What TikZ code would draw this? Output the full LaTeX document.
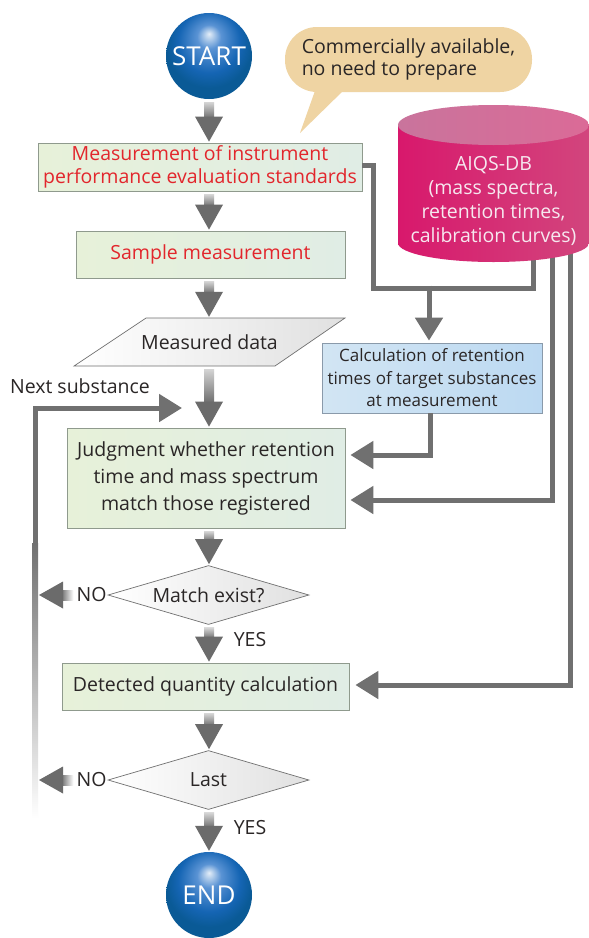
\documentclass[tikz,border=0pt]{standalone}
\usepackage{fontspec}
\setmainfont{Open Sans}
\usepackage{tikz}
\usetikzlibrary{calc,arrows.meta,shapes.geometric}

\definecolor{arrowgray}{HTML}{6B6B6B}
\definecolor{shaftlight}{HTML}{D4D4D4}
\definecolor{linegray}{HTML}{707070}
\definecolor{boxgreenA}{HTML}{E7F1D9}
\definecolor{boxgreenB}{HTML}{E0EDE5}
\definecolor{boxedge}{HTML}{8F9A8D}
\definecolor{calcA}{HTML}{D2E5F3}
\definecolor{calcB}{HTML}{BCD9F2}
\definecolor{calcedge}{HTML}{8A9AAA}
\definecolor{stepred}{HTML}{E2262C}
\definecolor{textdark}{HTML}{2A2626}
\definecolor{notetan}{HTML}{EFD4A3}
\definecolor{dbA}{HTML}{D8186C}
\definecolor{dbB}{HTML}{C67C9B}
\definecolor{dbC}{HTML}{D2457D}
\definecolor{dbtop}{HTML}{C9749C}
\definecolor{dbtext}{HTML}{F6E8EF}
\definecolor{sphereHi}{HTML}{E4EEF8}
\definecolor{sphereA}{HTML}{5A93D4}
\definecolor{sphereB}{HTML}{1565B4}
\definecolor{sphereC}{HTML}{0A5A96}

\pgfdeclareradialshading{bluesphere}{\pgfpoint{0bp}{13bp}}{color(0bp)=(sphereHi); color(7bp)=(sphereA); color(18bp)=(sphereB); color(25bp)=(sphereC); color(50bp)=(sphereC)}

\newcommand{\flowarrow}[2]{%
  \shade[top color=shaftlight, bottom color=arrowgray] ($(#1)+(-5,3)$) rectangle ($(#2)+(5,-24)$);
  \fill[arrowgray] ($(#2)+(-14,-26)$) -- ($(#2)+(14,-26)$) -- ($(#2)+(0,-1)$) -- cycle;}

\newcommand{\backarrow}[2]{%
  \shade[left color=arrowgray, right color=white] ($(#2)+(22,-5)$) rectangle ($(#1)+(-1,5)$);
  \fill[arrowgray] ($(#2)+(24,-13.5)$) -- ($(#2)+(24,13.5)$) -- (#2) -- cycle;}

\begin{document}
\begin{tikzpicture}[x=1pt, y=-1pt,
  txt/.style={font=\fontsize{19.5}{22.5}\selectfont, text=textdark, align=center},
  stepbox/.style={txt, draw=boxedge, line width=0.8pt, left color=boxgreenA, right color=boxgreenB, inner sep=0pt},
  calcbox/.style={txt, font=\fontsize{17}{22.5}\selectfont, draw=calcedge, line width=0.8pt, left color=calcA, right color=calcB, inner sep=0pt},
  choice/.style={txt, diamond, aspect=3.4, draw=linegray, line width=0.7pt, left color=white, right color=black!12, minimum width=201pt, minimum height=59pt, inner sep=0pt},
  sphere/.style={circle, minimum size=86pt, inner sep=0pt, shading=bluesphere, text=white, font=\fontsize{26}{28}\selectfont},
  dbline/.style={draw=linegray, line width=5pt},
  dbarrow/.style={dbline, -{Triangle[width=27pt,length=23pt]}}]

  \useasboundingbox[fill=white] (0,0) rectangle (589,938);
  \coordinate (axis) at (209,0);

  \node[sphere] (start) at (209,56) {START};
  \node[sphere] (end) at (209,895) {END};

  \node[txt, rectangle, rounded corners=32pt, fill=notetan, minimum width=247pt, minimum height=65pt, align=left] (note) at (408.5,59.5) {Commercially available,\\no need to prepare};
  \fill[notetan] (316,88) -- (300,133) -- (346,88) -- cycle;

  \node[stepbox, text=stepred, minimum width=324pt, minimum height=48pt] (box1) at (200,167) {Measurement of instrument\\performance evaluation standards};
  \node[stepbox, text=stepred, minimum width=269pt, minimum height=47pt] (box2) at (210.5,254.5) {Sample measurement};
  \shade[draw=linegray, line width=0.7pt, left color=white, right color=black!12] (74,366) -- (146,318) -- (345,318) -- (275,366) -- cycle;
  \node[txt, minimum width=271pt, minimum height=48pt, inner sep=0pt] (data) at (209.5,342) {Measured data};
  \node[calcbox, minimum width=220pt, minimum height=70pt] (calc) at (432,378) {Calculation of retention\\times of target substances\\at measurement};
  \node[stepbox, font=\fontsize{19.5}{27}\selectfont, minimum width=278pt, minimum height=100pt] (judg) at (206,478) {Judgment whether retention\\time and mass spectrum\\match those registered};
  \node[choice] (match) at (208.5,595) {Match exist?};
  \node[stepbox, minimum width=287pt, minimum height=47pt] (detect) at (205.5,686.5) {Detected quantity calculation};
  \node[choice] (last) at (208.5,780) {Last};

  \node[txt] (next) at (80,386) {Next substance};
  \node[txt, inner sep=2pt] (no1) at (91.5,595) {NO};
  \node[txt, inner sep=2pt] (no2) at (91.5,780) {NO};
  \node[txt] (yes1) at (250,640) {YES};
  \node[txt] (yes2) at (250,828) {YES};

  \flowarrow{axis |- start.south}{axis |- box1.north}
  \flowarrow{axis |- box1.south}{axis |- box2.north}
  \flowarrow{axis |- box2.south}{axis |- data.north}
  \flowarrow{axis |- data.south}{axis |- judg.north}
  \flowarrow{axis |- judg.south}{axis |- match.north}
  \flowarrow{axis |- match.south}{axis |- detect.north}
  \flowarrow{axis |- detect.south}{axis |- last.north}
  \flowarrow{axis |- last.south}{axis |- end.north}

  \coordinate (no1tip) at (39,595);
  \coordinate (no2tip) at (39,780);
  \backarrow{no1.west}{no1tip}
  \backarrow{no2.west}{no2tip}

  \coordinate (loopfoot) at (35,545);
  \coordinate (looptip) at (182,408);
  \shade[top color=linegray, bottom color=white] (32,543) rectangle (38,818);
  \draw[dbarrow] (loopfoot) |- (looptip);

  \coordinate (merge) at (429,288);
  \coordinate (dbfoot1) at (533,250);
  \coordinate (dbfoot2) at (552,250);
  \coordinate (dbfoot3) at (570,250);
  \draw[dbline] ($(box1.east)+(0,-2)$) -| (373,288) -- (merge);
  \draw[dbline] (dbfoot1) |- (merge);
  \draw[dbarrow] ($(merge)+(0,-2.5)$) -- ($(calc.north)+(-3,-2)$);
  \draw[dbarrow] ($(calc.south)+(-2,0)$) |- ($(judg.east)+(5,-23)$);
  \draw[dbarrow] (dbfoot2) |- ($(judg.east)+(5,22)$);
  \draw[dbarrow] (dbfoot3) |- ($(detect.east)+(6,-1.5)$);

  \shade[left color=dbA, middle color=dbB, right color=dbC] (398,125) -- (398,243) arc[start angle=180, end angle=0, x radius=95.5, y radius=19] -- (589,125) -- cycle;
  \shade[left color=dbtop, right color=dbC!80!white] (493.5,125) ellipse[x radius=95.5, y radius=20];
  \node[txt, font=\fontsize{19.5}{24.3}\selectfont, text=dbtext, minimum width=191pt, minimum height=157pt] (db) at (493.5,201) {AIQS-DB\\(mass spectra,\\retention times,\\calibration curves)};
\end{tikzpicture}
\end{document}
